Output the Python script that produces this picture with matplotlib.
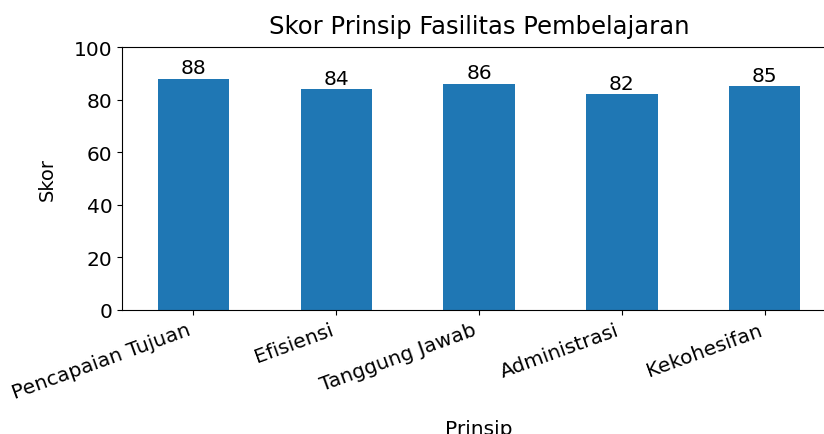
import matplotlib
matplotlib.use("Agg")
import matplotlib.pyplot as plt

prinsip = ["Pencapaian Tujuan", "Efisiensi", "Tanggung Jawab", "Administrasi", "Kekohesifan"]
skor = [88, 84, 86, 82, 85]

fig = plt.figure(figsize=(8.24, 4.35), dpi=100)
ax = fig.add_axes([122 / 824, 124 / 435, 714 / 824, 263 / 435])

bars = ax.bar(range(len(prinsip)), skor, width=0.5, color="#1f77b4")
ax.bar_label(bars, fontsize=14.5, padding=1)
ax.set_xlim(-0.5, len(prinsip) - 0.5)
ax.set_ylim(0, 100)
ax.set_xticks(range(len(prinsip)))
ax.set_xticklabels(prinsip, rotation=20, ha="right", fontsize=14.5)
ax.tick_params(axis="y", labelsize=14.5)
ax.set_title("Skor Prinsip Fasilitas Pembelajaran", fontsize=17.5, pad=10)
ax.set_xlabel("Prinsip", fontsize=14.5, labelpad=12)
ax.set_ylabel("Skor", fontsize=14, labelpad=12)

fig.savefig("out.png", dpi=100)
